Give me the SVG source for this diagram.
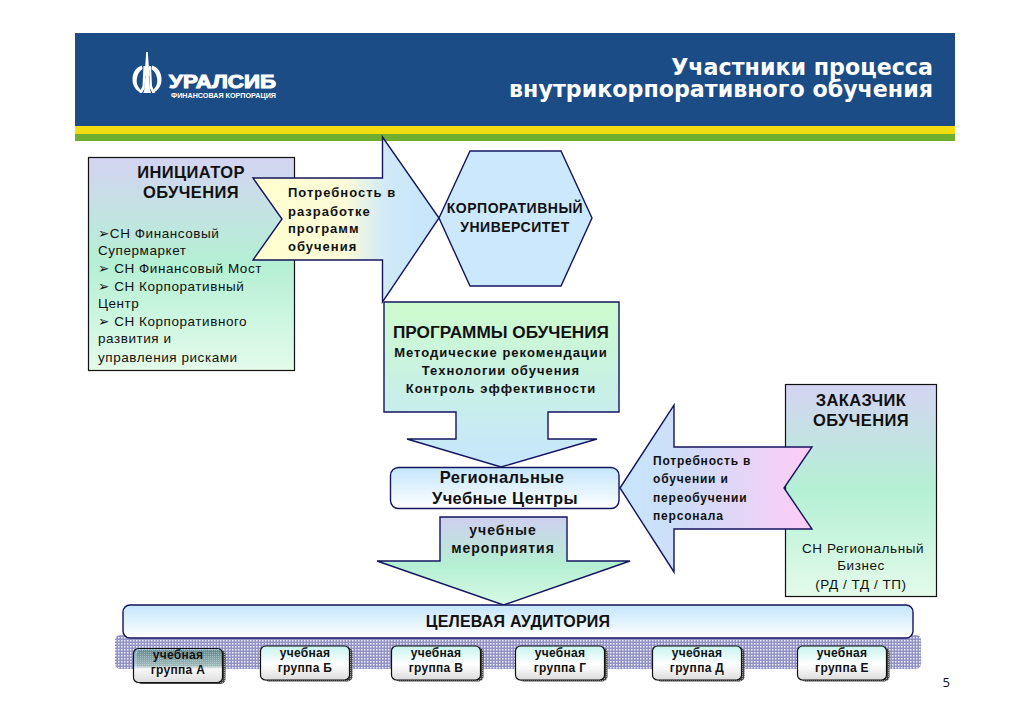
<svg xmlns="http://www.w3.org/2000/svg" width="1030" height="728" viewBox="0 0 1030 728">
<style>
text{font-family:"Liberation Sans",Arial,sans-serif;fill:#111}
.c{text-anchor:middle}
.h{font-size:16.5px;font-weight:bold;letter-spacing:.4px}
.b{font-size:13.5px;letter-spacing:.55px}
.l{font-size:13px;font-weight:bold;letter-spacing:1px}
.m{font-size:12px;font-weight:bold;letter-spacing:.8px}
.u{font-size:14px;font-weight:bold;letter-spacing:.5px}
.g{font-size:12px;font-weight:bold;letter-spacing:.3px}
.s{stroke:#14145f;stroke-width:1.4;stroke-linejoin:miter}
.k{stroke:#111;stroke-width:1.2}
.t{font-family:"DejaVu Sans",Verdana,sans-serif;font-size:22.2px;font-weight:bold;fill:#fff;text-anchor:end}
</style>
<defs>
<linearGradient id="side" x1="0" y1="0" x2="0" y2="1"><stop offset="0" stop-color="#d4d4f2"/><stop offset=".5" stop-color="#b4f0d4"/><stop offset="1" stop-color="#e4fbea"/></linearGradient>
<linearGradient id="need1" x1="0" y1="0" x2="1" y2="0"><stop offset="0" stop-color="#ffffcf"/><stop offset=".5" stop-color="#fbfbd8"/><stop offset=".72" stop-color="#cfe9f8"/><stop offset="1" stop-color="#c6e6fb"/></linearGradient>
<linearGradient id="need2" x1="0" y1="0" x2="1" y2="0"><stop offset="0" stop-color="#c6e6fb"/><stop offset=".35" stop-color="#cfdcf8"/><stop offset="1" stop-color="#ffccf6"/></linearGradient>
<linearGradient id="prog" x1="0" y1="0" x2="0" y2="1"><stop offset="0" stop-color="#ccfbcc"/><stop offset="1" stop-color="#c6e6fe"/></linearGradient>
<linearGradient id="event" x1="0" y1="0" x2="0" y2="1"><stop offset="0" stop-color="#cfcff0"/><stop offset=".55" stop-color="#b4f0d2"/><stop offset="1" stop-color="#d8fae4"/></linearGradient>
<linearGradient id="bar" x1="0" y1="0" x2="0" y2="1"><stop offset="0" stop-color="#c4e6fc"/><stop offset="1" stop-color="#ffffff"/></linearGradient>
<linearGradient id="grp" x1="0" y1="0" x2="0" y2="1"><stop offset="0" stop-color="#c8f4ee"/><stop offset=".55" stop-color="#ffffff"/><stop offset="1" stop-color="#dcdcdc"/></linearGradient>
<linearGradient id="grpA" x1="0" y1="0" x2="0" y2="1"><stop offset="0" stop-color="#7fb8c0" stop-opacity=".55"/><stop offset=".5" stop-color="#c0e0e0" stop-opacity=".75"/><stop offset=".6" stop-color="#f8f8f8"/><stop offset="1" stop-color="#dcdcdc"/></linearGradient>
<pattern id="weave" width="3" height="3" patternUnits="userSpaceOnUse"><rect width="3" height="3" fill="#9292c6"/><rect x="1" y="1" width="1.5" height="1.5" fill="#f0f0fa"/></pattern>
<pattern id="dark" width="2" height="2" patternUnits="userSpaceOnUse"><rect width="2" height="2" fill="#444"/><rect width="1" height="1" fill="#aaa"/></pattern>
</defs>

<g id="header">
<rect x="75" y="33" width="880" height="93" fill="#1c4c86"/>
<rect x="75" y="126" width="880" height="8" fill="#f3dc10"/>
<rect x="75" y="134" width="880" height="7" fill="#6fae30"/>
<g id="logo" fill="#fff">
<path d="M146.200 52h1.600l.9 13 .8 11h-5.200l1-11z"/>
<path d="M143.500 66h2l-.8 22-2.700 5h-2.500l3-7zM151 66h-2l.8 22 2.700 5h2.500l-3-7z"/>
<path d="M145.600 74h3l1.500 16 1 3h-7.800l1-3z"/>
<path d="M142 65.500C135.500 67.500 132.500 73 132.500 79.500c0 6 3 11 9 13.500l.5-2C137.500 87 136 83 137 78c.6-4 2.500-7 5.500-9zM152 65.500c6.500 2 9.500 7.500 9.500 14 0 6-3 11-9 13.500l-.5-2c4.500-4 6-8 5-13-.6-4-2.500-7-5.500-9z"/>
<text x="169" y="88" textLength="107" lengthAdjust="spacingAndGlyphs" style="font-size:18px;font-weight:bold;fill:#fff;stroke:#fff;stroke-width:1">УРАЛСИБ</text>
<text x="171" y="97.500" textLength="105" lengthAdjust="spacingAndGlyphs" style="font-size:7px;font-weight:bold;fill:#fff">ФИНАНСОВАЯ КОРПОРАЦИЯ</text>
</g>
<text class="t" x="933" y="75">Участники процесса</text>
<text class="t" x="933" y="97">внутрикорпоративного обучения</text>
</g>

<g id="initiator">
<rect class="k" x="88.500" y="157.500" width="206" height="213" fill="url(#side)"/>
<text class="h c" x="191" y="178">ИНИЦИАТОР</text>
<text class="h c" x="191" y="198">ОБУЧЕНИЯ</text>
<text class="b" x="98" y="238" style="font-family:'Liberation Sans','DejaVu Sans',sans-serif">➢СН Финансовый</text>
<text class="b" x="98" y="255">Супермаркет</text>
<text class="b" x="98" y="273" style="font-family:'Liberation Sans','DejaVu Sans',sans-serif">➢ СН Финансовый Мост</text>
<text class="b" x="98" y="291" style="font-family:'Liberation Sans','DejaVu Sans',sans-serif">➢ СН Корпоративный</text>
<text class="b" x="98" y="308">Центр</text>
<text class="b" x="98" y="326" style="font-family:'Liberation Sans','DejaVu Sans',sans-serif">➢ СН Корпоративного</text>
<text class="b" x="98" y="343">развития и</text>
<text class="b" x="98" y="362">управления рисками</text>
</g>

<g id="customer">
<rect class="k" x="785.500" y="384.500" width="151" height="212" fill="url(#side)"/>
<text class="h c" x="861" y="406">ЗАКАЗЧИК</text>
<text class="h c" x="861" y="426">ОБУЧЕНИЯ</text>
<text class="b c" x="863" y="553">СН Региональный</text>
<text class="b c" x="861" y="570">Бизнес</text>
<text class="b c" x="861" y="589">(РД / ТД / ТП)</text>
</g>

<g id="connectors">
<g id="need-programs">
<polygon class="s" points="253,178 382.500,178 382.500,137 439,218 382.500,302 382.500,260 253,260 282,219" fill="url(#need1)"/>
<text class="l" x="288" y="197">Потребность в</text>
<text class="l" x="288" y="216">разработке</text>
<text class="l" x="288" y="233">программ</text>
<text class="l" x="288" y="251">обучения</text>
</g>
<g id="need-staff">
<polygon class="s" points="620,488 674,405 674,447 812,447 784,488 812,529 674,529 674,572" fill="url(#need2)"/>
<text class="m" x="653" y="465">Потребность в</text>
<text class="m" x="653" y="483">обучении и</text>
<text class="m" x="653" y="502">переобучении</text>
<text class="m" x="653" y="520">персонала</text>
</g>
</g>

<g id="university">
<polygon class="s" points="470,151 561,151 592,218 561,286 470,286 439,218" fill="#cbe8fc"/>
<text class="u c" x="515" y="213">КОРПОРАТИВНЫЙ</text>
<text class="u c" x="515" y="232">УНИВЕРСИТЕТ</text>
</g>

<g id="programs">
<polygon class="s" points="384,302 619,302 619,412 548,412 548,439 597,439 501,467 407,439 456,439 456,412 384,412" fill="url(#prog)"/>
<text class="c" x="501" y="338" style="font-size:17.2px;font-weight:bold">ПРОГРАММЫ ОБУЧЕНИЯ</text>
<text class="l c" x="501" y="357">Методические рекомендации</text>
<text class="l c" x="501" y="375">Технологии обучения</text>
<text class="l c" x="501" y="393">Контроль эффективности</text>
</g>

<g id="regional">
<rect class="s" x="390.500" y="467.500" width="228.500" height="41" rx="8" fill="url(#bar)"/>
<text class="h c" x="502" y="483">Региональные</text>
<text class="h c" x="505" y="504">Учебные Центры</text>
</g>

<g id="events">
<polygon class="s" points="440,517 567,517 567,561 630,561 503.500,605 377,561 440,561" fill="url(#event)"/>
<text class="l c" x="503" y="535" style="font-size:14px">учебные</text>
<text class="l c" x="503" y="553" style="font-size:14px">мероприятия</text>
</g>

<g id="audience">
<rect x="115" y="635" width="806" height="34" rx="5" fill="url(#weave)"/>
<rect class="s" x="123" y="605" width="790" height="33" rx="7" fill="url(#bar)"/>
<text class="c" x="518" y="627" style="font-size:16px;font-weight:bold;letter-spacing:.2px">ЦЕЛЕВАЯ АУДИТОРИЯ</text>
</g>

<g id="group-a">
<rect x="136.500" y="650" width="89" height="34" rx="5" fill="url(#dark)"/>
<rect class="k" x="133.500" y="648.500" width="89" height="34" rx="5" fill="url(#grpA)"/>
<text class="g c" x="178" y="659">учебная</text>
<text class="g c" x="178" y="674">группа А</text>
</g>
<g id="group-b">
<rect x="263.500" y="647.500" width="89" height="34" rx="5" fill="url(#dark)"/>
<rect class="k" x="260.500" y="646" width="89" height="34" rx="5" fill="url(#grp)"/>
<text class="g c" x="305" y="657">учебная</text>
<text class="g c" x="305" y="672">группа Б</text>
</g>
<g id="group-v">
<rect x="394.500" y="647.500" width="89" height="34" rx="5" fill="url(#dark)"/>
<rect class="k" x="391.500" y="646" width="89" height="34" rx="5" fill="url(#grp)"/>
<text class="g c" x="436" y="657">учебная</text>
<text class="g c" x="436" y="672">группа В</text>
</g>
<g id="group-g">
<rect x="518.500" y="647.500" width="89" height="34" rx="5" fill="url(#dark)"/>
<rect class="k" x="515.500" y="646" width="89" height="34" rx="5" fill="url(#grp)"/>
<text class="g c" x="560" y="657">учебная</text>
<text class="g c" x="560" y="672">группа Г</text>
</g>
<g id="group-d">
<rect x="655.500" y="647.500" width="89" height="34" rx="5" fill="url(#dark)"/>
<rect class="k" x="652.500" y="646" width="89" height="34" rx="5" fill="url(#grp)"/>
<text class="g c" x="697" y="657">учебная</text>
<text class="g c" x="697" y="672">группа Д</text>
</g>
<g id="group-e">
<rect x="800.500" y="647.500" width="89" height="34" rx="5" fill="url(#dark)"/>
<rect class="k" x="797.500" y="646" width="89" height="34" rx="5" fill="url(#grp)"/>
<text class="g c" x="842" y="657">учебная</text>
<text class="g c" x="842" y="672">группа Е</text>
</g>

<text id="page" x="942.500" y="687" style="font-family:'Open Sans',sans-serif;font-size:13px">5</text>
</svg>
